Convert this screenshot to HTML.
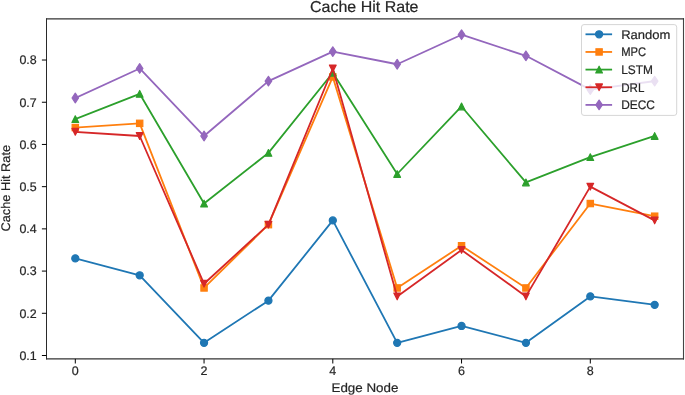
<!DOCTYPE html>
<html><head><meta charset="utf-8"><style>
html,body{margin:0;padding:0;background:#fff;}
svg{display:block;will-change:transform;}
.t{text-rendering:geometricPrecision;font-family:"Liberation Sans",sans-serif;font-size:12.5px;fill:#262626;stroke:#262626;stroke-width:0.2px;}
.title{text-rendering:geometricPrecision;font-family:"Liberation Sans",sans-serif;font-size:15.8px;fill:#262626;stroke:#262626;stroke-width:0.2px;}
</style></head><body>
<svg width="685" height="395" viewBox="0 0 685 395">
<rect x="0" y="0" width="685" height="395" fill="#fff"/>
<defs><clipPath id="ax"><rect x="46.5" y="18.85" width="637.0" height="340.04999999999995"/></clipPath></defs>
<g clip-path="url(#ax)">
<polyline points="75.30,258.42 139.68,275.30 204.05,342.84 268.43,300.63 332.80,220.43 397.18,342.84 461.55,325.95 525.92,342.84 590.30,296.41 654.67,304.85" fill="none" stroke="#1f77b4" stroke-width="1.8" stroke-linejoin="round" stroke-linecap="square"/>
<circle cx="75.30" cy="258.42" r="3.55" fill="#1f77b4" stroke="#1f77b4" stroke-width="1.2"/>
<circle cx="139.68" cy="275.30" r="3.55" fill="#1f77b4" stroke="#1f77b4" stroke-width="1.2"/>
<circle cx="204.05" cy="342.84" r="3.55" fill="#1f77b4" stroke="#1f77b4" stroke-width="1.2"/>
<circle cx="268.43" cy="300.63" r="3.55" fill="#1f77b4" stroke="#1f77b4" stroke-width="1.2"/>
<circle cx="332.80" cy="220.43" r="3.55" fill="#1f77b4" stroke="#1f77b4" stroke-width="1.2"/>
<circle cx="397.18" cy="342.84" r="3.55" fill="#1f77b4" stroke="#1f77b4" stroke-width="1.2"/>
<circle cx="461.55" cy="325.95" r="3.55" fill="#1f77b4" stroke="#1f77b4" stroke-width="1.2"/>
<circle cx="525.92" cy="342.84" r="3.55" fill="#1f77b4" stroke="#1f77b4" stroke-width="1.2"/>
<circle cx="590.30" cy="296.41" r="3.55" fill="#1f77b4" stroke="#1f77b4" stroke-width="1.2"/>
<circle cx="654.67" cy="304.85" r="3.55" fill="#1f77b4" stroke="#1f77b4" stroke-width="1.2"/>
<polyline points="75.30,127.57 139.68,123.34 204.05,287.96 268.43,224.65 332.80,76.91 397.18,287.96 461.55,245.75 525.92,287.96 590.30,203.54 654.67,216.21" fill="none" stroke="#ff7f0e" stroke-width="1.8" stroke-linejoin="round" stroke-linecap="square"/>
<rect x="72.15" y="124.42" width="6.30" height="6.30" fill="#ff7f0e" stroke="#ff7f0e" stroke-width="1.2"/>
<rect x="136.53" y="120.19" width="6.30" height="6.30" fill="#ff7f0e" stroke="#ff7f0e" stroke-width="1.2"/>
<rect x="200.90" y="284.81" width="6.30" height="6.30" fill="#ff7f0e" stroke="#ff7f0e" stroke-width="1.2"/>
<rect x="265.28" y="221.50" width="6.30" height="6.30" fill="#ff7f0e" stroke="#ff7f0e" stroke-width="1.2"/>
<rect x="329.65" y="73.76" width="6.30" height="6.30" fill="#ff7f0e" stroke="#ff7f0e" stroke-width="1.2"/>
<rect x="394.03" y="284.81" width="6.30" height="6.30" fill="#ff7f0e" stroke="#ff7f0e" stroke-width="1.2"/>
<rect x="458.40" y="242.60" width="6.30" height="6.30" fill="#ff7f0e" stroke="#ff7f0e" stroke-width="1.2"/>
<rect x="522.77" y="284.81" width="6.30" height="6.30" fill="#ff7f0e" stroke="#ff7f0e" stroke-width="1.2"/>
<rect x="587.15" y="200.39" width="6.30" height="6.30" fill="#ff7f0e" stroke="#ff7f0e" stroke-width="1.2"/>
<rect x="651.52" y="213.06" width="6.30" height="6.30" fill="#ff7f0e" stroke="#ff7f0e" stroke-width="1.2"/>
<polyline points="75.30,119.12 139.68,93.80 204.05,203.54 268.43,152.89 332.80,72.69 397.18,174.00 461.55,106.46 525.92,182.44 590.30,157.11 654.67,136.01" fill="none" stroke="#2ca02c" stroke-width="1.8" stroke-linejoin="round" stroke-linecap="square"/>
<polygon points="75.30,115.77 71.95,122.47 78.65,122.47" fill="#2ca02c" stroke="#2ca02c" stroke-width="1.2" stroke-linejoin="round"/>
<polygon points="139.68,90.45 136.33,97.15 143.03,97.15" fill="#2ca02c" stroke="#2ca02c" stroke-width="1.2" stroke-linejoin="round"/>
<polygon points="204.05,200.19 200.70,206.89 207.40,206.89" fill="#2ca02c" stroke="#2ca02c" stroke-width="1.2" stroke-linejoin="round"/>
<polygon points="268.43,149.54 265.07,156.24 271.78,156.24" fill="#2ca02c" stroke="#2ca02c" stroke-width="1.2" stroke-linejoin="round"/>
<polygon points="332.80,69.34 329.45,76.04 336.15,76.04" fill="#2ca02c" stroke="#2ca02c" stroke-width="1.2" stroke-linejoin="round"/>
<polygon points="397.18,170.65 393.82,177.35 400.53,177.35" fill="#2ca02c" stroke="#2ca02c" stroke-width="1.2" stroke-linejoin="round"/>
<polygon points="461.55,103.11 458.20,109.81 464.90,109.81" fill="#2ca02c" stroke="#2ca02c" stroke-width="1.2" stroke-linejoin="round"/>
<polygon points="525.92,179.09 522.57,185.79 529.27,185.79" fill="#2ca02c" stroke="#2ca02c" stroke-width="1.2" stroke-linejoin="round"/>
<polygon points="590.30,153.76 586.95,160.46 593.65,160.46" fill="#2ca02c" stroke="#2ca02c" stroke-width="1.2" stroke-linejoin="round"/>
<polygon points="654.67,132.66 651.32,139.36 658.02,139.36" fill="#2ca02c" stroke="#2ca02c" stroke-width="1.2" stroke-linejoin="round"/>
<polyline points="75.30,131.79 139.68,136.01 204.05,283.74 268.43,224.65 332.80,68.47 397.18,296.41 461.55,249.98 525.92,296.41 590.30,186.66 654.67,220.43" fill="none" stroke="#d62728" stroke-width="1.8" stroke-linejoin="round" stroke-linecap="square"/>
<polygon points="75.30,135.14 71.95,128.44 78.65,128.44" fill="#d62728" stroke="#d62728" stroke-width="1.2" stroke-linejoin="round"/>
<polygon points="139.68,139.36 136.33,132.66 143.03,132.66" fill="#d62728" stroke="#d62728" stroke-width="1.2" stroke-linejoin="round"/>
<polygon points="204.05,287.09 200.70,280.39 207.40,280.39" fill="#d62728" stroke="#d62728" stroke-width="1.2" stroke-linejoin="round"/>
<polygon points="268.43,228.00 265.07,221.30 271.78,221.30" fill="#d62728" stroke="#d62728" stroke-width="1.2" stroke-linejoin="round"/>
<polygon points="332.80,71.82 329.45,65.12 336.15,65.12" fill="#d62728" stroke="#d62728" stroke-width="1.2" stroke-linejoin="round"/>
<polygon points="397.18,299.76 393.82,293.06 400.53,293.06" fill="#d62728" stroke="#d62728" stroke-width="1.2" stroke-linejoin="round"/>
<polygon points="461.55,253.33 458.20,246.63 464.90,246.63" fill="#d62728" stroke="#d62728" stroke-width="1.2" stroke-linejoin="round"/>
<polygon points="525.92,299.76 522.57,293.06 529.27,293.06" fill="#d62728" stroke="#d62728" stroke-width="1.2" stroke-linejoin="round"/>
<polygon points="590.30,190.01 586.95,183.31 593.65,183.31" fill="#d62728" stroke="#d62728" stroke-width="1.2" stroke-linejoin="round"/>
<polygon points="654.67,223.78 651.32,217.08 658.02,217.08" fill="#d62728" stroke="#d62728" stroke-width="1.2" stroke-linejoin="round"/>
<polyline points="75.30,98.02 139.68,68.47 204.05,136.01 268.43,81.13 332.80,51.59 397.18,64.25 461.55,34.70 525.92,55.81 590.30,89.58 654.67,81.13" fill="none" stroke="#9467bd" stroke-width="1.8" stroke-linejoin="round" stroke-linecap="square"/>
<polygon points="75.30,93.21 78.57,98.02 75.30,102.83 72.03,98.02" fill="#9467bd" stroke="#9467bd" stroke-width="1.2" stroke-linejoin="round"/>
<polygon points="139.68,63.66 142.94,68.47 139.68,73.28 136.41,68.47" fill="#9467bd" stroke="#9467bd" stroke-width="1.2" stroke-linejoin="round"/>
<polygon points="204.05,131.20 207.32,136.01 204.05,140.82 200.78,136.01" fill="#9467bd" stroke="#9467bd" stroke-width="1.2" stroke-linejoin="round"/>
<polygon points="268.43,76.33 271.69,81.13 268.43,85.94 265.16,81.13" fill="#9467bd" stroke="#9467bd" stroke-width="1.2" stroke-linejoin="round"/>
<polygon points="332.80,46.78 336.07,51.59 332.80,56.40 329.53,51.59" fill="#9467bd" stroke="#9467bd" stroke-width="1.2" stroke-linejoin="round"/>
<polygon points="397.18,59.44 400.44,64.25 397.18,69.06 393.91,64.25" fill="#9467bd" stroke="#9467bd" stroke-width="1.2" stroke-linejoin="round"/>
<polygon points="461.55,29.90 464.82,34.70 461.55,39.51 458.28,34.70" fill="#9467bd" stroke="#9467bd" stroke-width="1.2" stroke-linejoin="round"/>
<polygon points="525.92,51.00 529.19,55.81 525.92,60.62 522.66,55.81" fill="#9467bd" stroke="#9467bd" stroke-width="1.2" stroke-linejoin="round"/>
<polygon points="590.30,84.77 593.57,89.58 590.30,94.39 587.03,89.58" fill="#9467bd" stroke="#9467bd" stroke-width="1.2" stroke-linejoin="round"/>
<polygon points="654.67,76.33 657.94,81.13 654.67,85.94 651.41,81.13" fill="#9467bd" stroke="#9467bd" stroke-width="1.2" stroke-linejoin="round"/>
</g>
<line x1="46.5" y1="18.35" x2="46.5" y2="359.4" stroke="#2a2a2a" stroke-width="1"/>
<line x1="683.5" y1="18.35" x2="683.5" y2="359.4" stroke="#444" stroke-width="1.1"/>
<line x1="46.0" y1="18.85" x2="684.0" y2="18.85" stroke="#333" stroke-width="1.1"/>
<line x1="46.0" y1="358.9" x2="684.0" y2="358.9" stroke="#333" stroke-width="1.1"/>
<line x1="41.90" y1="355.50" x2="46.5" y2="355.50" stroke="#000" stroke-width="1"/>
<text x="19.4" y="359.90" textLength="17.3" lengthAdjust="spacingAndGlyphs" class="t">0.1</text>
<line x1="41.90" y1="313.29" x2="46.5" y2="313.29" stroke="#000" stroke-width="1"/>
<text x="19.4" y="317.69" textLength="17.3" lengthAdjust="spacingAndGlyphs" class="t">0.2</text>
<line x1="41.90" y1="271.08" x2="46.5" y2="271.08" stroke="#000" stroke-width="1"/>
<text x="19.4" y="275.48" textLength="17.3" lengthAdjust="spacingAndGlyphs" class="t">0.3</text>
<line x1="41.90" y1="228.87" x2="46.5" y2="228.87" stroke="#000" stroke-width="1"/>
<text x="19.4" y="233.27" textLength="17.3" lengthAdjust="spacingAndGlyphs" class="t">0.4</text>
<line x1="41.90" y1="186.66" x2="46.5" y2="186.66" stroke="#000" stroke-width="1"/>
<text x="19.4" y="191.06" textLength="17.3" lengthAdjust="spacingAndGlyphs" class="t">0.5</text>
<line x1="41.90" y1="144.45" x2="46.5" y2="144.45" stroke="#000" stroke-width="1"/>
<text x="19.4" y="148.85" textLength="17.3" lengthAdjust="spacingAndGlyphs" class="t">0.6</text>
<line x1="41.90" y1="102.24" x2="46.5" y2="102.24" stroke="#000" stroke-width="1"/>
<text x="19.4" y="106.64" textLength="17.3" lengthAdjust="spacingAndGlyphs" class="t">0.7</text>
<line x1="41.90" y1="60.03" x2="46.5" y2="60.03" stroke="#000" stroke-width="1"/>
<text x="19.4" y="64.43" textLength="17.3" lengthAdjust="spacingAndGlyphs" class="t">0.8</text>
<line x1="75.30" y1="358.9" x2="75.30" y2="363.50" stroke="#000" stroke-width="1"/>
<text x="75.30" y="375" text-anchor="middle" class="t">0</text>
<line x1="204.05" y1="358.9" x2="204.05" y2="363.50" stroke="#000" stroke-width="1"/>
<text x="204.05" y="375" text-anchor="middle" class="t">2</text>
<line x1="332.80" y1="358.9" x2="332.80" y2="363.50" stroke="#000" stroke-width="1"/>
<text x="332.80" y="375" text-anchor="middle" class="t">4</text>
<line x1="461.55" y1="358.9" x2="461.55" y2="363.50" stroke="#000" stroke-width="1"/>
<text x="461.55" y="375" text-anchor="middle" class="t">6</text>
<line x1="590.30" y1="358.9" x2="590.30" y2="363.50" stroke="#000" stroke-width="1"/>
<text x="590.30" y="375" text-anchor="middle" class="t">8</text>
<text x="331.5" y="391.7" textLength="66.9" lengthAdjust="spacingAndGlyphs" class="t">Edge Node</text>
<text transform="translate(9.9,231.5) rotate(-90)" x="0" y="0" textLength="86.6" lengthAdjust="spacingAndGlyphs" class="t">Cache Hit Rate</text>
<text x="310.0" y="11.8" textLength="108.5" lengthAdjust="spacingAndGlyphs" class="title">Cache Hit Rate</text>
<rect x="581.5" y="24.6" width="95.20" height="90.80" rx="2.5" ry="2.5" fill="#fff" fill-opacity="0.8" stroke="#d6d6d6" stroke-width="1"/>
<line x1="586.4" y1="34.3" x2="611.2" y2="34.3" stroke="#1f77b4" stroke-width="1.8" stroke-linecap="square"/>
<circle cx="599.10" cy="34.30" r="3.55" fill="#1f77b4" stroke="#1f77b4" stroke-width="1.2"/>
<text x="621.2" y="38.60" textLength="49.2" lengthAdjust="spacingAndGlyphs" class="t">Random</text>
<line x1="586.4" y1="51.95" x2="611.2" y2="51.95" stroke="#ff7f0e" stroke-width="1.8" stroke-linecap="square"/>
<rect x="595.95" y="48.80" width="6.30" height="6.30" fill="#ff7f0e" stroke="#ff7f0e" stroke-width="1.2"/>
<text x="621.2" y="56.25" textLength="24.9" lengthAdjust="spacingAndGlyphs" class="t">MPC</text>
<line x1="586.4" y1="69.6" x2="611.2" y2="69.6" stroke="#2ca02c" stroke-width="1.8" stroke-linecap="square"/>
<polygon points="599.10,66.25 595.75,72.95 602.45,72.95" fill="#2ca02c" stroke="#2ca02c" stroke-width="1.2" stroke-linejoin="round"/>
<text x="621.2" y="73.90" textLength="31.7" lengthAdjust="spacingAndGlyphs" class="t">LSTM</text>
<line x1="586.4" y1="87.25" x2="611.2" y2="87.25" stroke="#d62728" stroke-width="1.8" stroke-linecap="square"/>
<polygon points="599.10,90.60 595.75,83.90 602.45,83.90" fill="#d62728" stroke="#d62728" stroke-width="1.2" stroke-linejoin="round"/>
<text x="621.2" y="91.55" textLength="23.2" lengthAdjust="spacingAndGlyphs" class="t">DRL</text>
<line x1="586.4" y1="104.9" x2="611.2" y2="104.9" stroke="#9467bd" stroke-width="1.8" stroke-linecap="square"/>
<polygon points="599.10,100.09 602.37,104.90 599.10,109.71 595.83,104.90" fill="#9467bd" stroke="#9467bd" stroke-width="1.2" stroke-linejoin="round"/>
<text x="621.2" y="109.20" textLength="33.8" lengthAdjust="spacingAndGlyphs" class="t">DECC</text>
</svg>
</body></html>
